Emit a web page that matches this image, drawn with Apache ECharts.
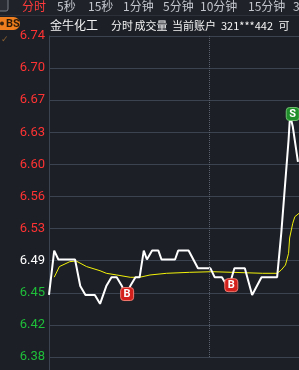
<!DOCTYPE html>
<html>
<head>
<meta charset="utf-8">
<script src="https://cdn.jsdelivr.net/npm/echarts@6/dist/echarts.min.js"></script>
<style>
html,body{margin:0;padding:0;background:#1c1f26;}
#c{width:299px;height:370px;}
</style>
</head>
<body>
<div id="c"></div>
<script>
// ---- data ----
const tabs = ['分时','5秒','15秒','1分钟','5分钟','10分钟','15分钟','3'];
const headerItems = ['金牛化工','分时','成交量','当前账户','321***442','可'];
const yTickLabels = ['6.38','6.42','6.45','6.49','6.53','6.56','6.60','6.63','6.67','6.70','6.74'];
const prevCloseLabel = '6.49';
const yMin = 6.38, yMax = 6.742;
const priceTimes = [0,5,9,25,30,35,44,49,55,60,65,70,74,78,83,87,91,94,99,105,108,121,124,134,143,155,159,166,171,173,178,188,195,204,219,223,227,230,231,232,234,239];
const prices = [6.45,6.50,6.49,6.49,6.46,6.45,6.45,6.44,6.46,6.47,6.47,6.46,6.45,6.46,6.47,6.47,6.50,6.49,6.50,6.50,6.49,6.49,6.50,6.50,6.48,6.48,6.47,6.47,6.46,6.46,6.48,6.48,6.45,6.47,6.47,6.52,6.58,6.625,6.645,6.65,6.64,6.60];
const avgTimes = [5,10,20,26,36,49,55,65,78,87,97,113,135,157,205,219,223,227,230,231,234,236,240];
const avgPrices = [6.470,6.482,6.4875,6.4883,6.482,6.4773,6.4744,6.4725,6.4699,6.4699,6.4725,6.4744,6.4755,6.4762,6.4744,6.4744,6.4781,6.4837,6.4969,6.5142,6.5308,6.5382,6.5420];
const signalTimes = [75,175,234];
const signalPrices = [6.451,6.461,6.654];
const signalLabels = ['B','B','S'];
const separatorTime = 154;

const toPairs = (xs, ys) => xs.map((x,i)=>[x, ys[i]]);

const chart = echarts.init(document.getElementById('c'), null, {renderer:'canvas'});

const tabX = [22,57,88,123,163,200,248,293];
const headerCenters = [74,122,151,194,247,284];
const headerSizes = [12,11,11,11,11,11];
const cjk = '"Noto Sans CJK SC", sans-serif';

const graphics = [
  {type:'rect', shape:{x:0,y:0,width:299,height:15}, style:{fill:'#1f2229'}, z:0},
  {type:'line', shape:{x1:0,y1:15.5,x2:299,y2:15.5}, style:{stroke:'#2c3038',lineWidth:1}},
  {type:'rect', shape:{x:-3,y:-2,width:11,height:13,r:2}, style:{fill:'#2a2d34',stroke:'#7a7e86',lineWidth:1}},
  {type:'rect', shape:{x:-7,y:17,width:27,height:13,r:6.5}, style:{fill:'#ef7f1e'}},
  {type:'circle', shape:{cx:2,cy:23.5,r:2}, style:{fill:'#3a2410'}},
  {type:'text', style:{x:6,y:24,text:'BS',fill:'#2a1a08',font:'bold 11px Roboto, sans-serif',verticalAlign:'middle'}},
  {type:'text', style:{x:1,y:40,text:'✓',fill:'#8a6030',font:'9px "DejaVu Sans", sans-serif',verticalAlign:'middle'}},
  {type:'line', shape:{x1:49.5,y1:357,x2:49.5,y2:370}, style:{stroke:'#3c4350',lineWidth:1}}
];
tabs.forEach((t,i)=>{
  graphics.push({type:'text', style:{x:tabX[i], y:6.5, text:t, fill: i===0 ? '#ff3b3b' : '#c3c6cc', font:'12px '+cjk, verticalAlign:'middle'}});
});
headerItems.forEach((t,i)=>{
  graphics.push({type:'text', style:{x:headerCenters[i], y:25.5, text:t, fill:'#f4f4f4', font:headerSizes[i]+'px '+cjk, align:'center', verticalAlign:'middle'}});
});

const option = {
  backgroundColor:'#1c1f26',
  animation:false,
  grid:{left:49, right:0, top:36, bottom:13},
  xAxis:{type:'value', min:0, max:240, show:false},
  yAxis:[
    {type:'value', min:yMin, max:yMax, show:false},
    {type:'category', data:yTickLabels, boundaryGap:false, position:'left',
     axisLine:{show:true, lineStyle:{color:'#3c4350', width:1}},
     axisTick:{show:false},
     splitLine:{show:true, interval:0, lineStyle:{color:'#3c4350', width:1}},
     axisLabel:{interval:0, margin:4, fontSize:13, fontFamily:'Roboto, sans-serif',
       color:(v)=>{ const n=parseFloat(v), p=parseFloat(prevCloseLabel); return n>p ? '#ff3333' : (n<p ? '#1fbf3a' : '#ffffff'); }}
    }
  ],
  series:[
    {type:'line', yAxisIndex:0, data:toPairs(avgTimes, avgPrices), symbol:'none', lineStyle:{color:'#f2f20a', width:1}, z:3, silent:true},
    {type:'line', yAxisIndex:0, data:toPairs(priceTimes, prices), symbol:'none', lineStyle:{color:'#ffffff', width:2}, z:4, silent:true,
     markLine:{silent:true, symbol:'none', label:{show:false},
       lineStyle:{color:'#5b616d', type:'dotted', width:1},
       data:[{xAxis:separatorTime}]},
     markPoint:{silent:true,
       data: signalTimes.map((t,i)=>({
         coord:[t, signalPrices[i]],
         symbol:'roundRect', symbolSize:[13,13],
         itemStyle:{color: signalLabels[i]==='B' ? '#d4201c' : '#1e8f2a', borderColor: signalLabels[i]==='B' ? '#f07a70' : '#70c070', borderWidth:1},
         label:{show:true, formatter:signalLabels[i], color:'#ffffff', fontSize:11, fontWeight:'bold', fontFamily:'Roboto, sans-serif'}
       }))}
    }
  ],
  graphic: graphics
};
chart.setOption(option);
</script>
</body>
</html>
